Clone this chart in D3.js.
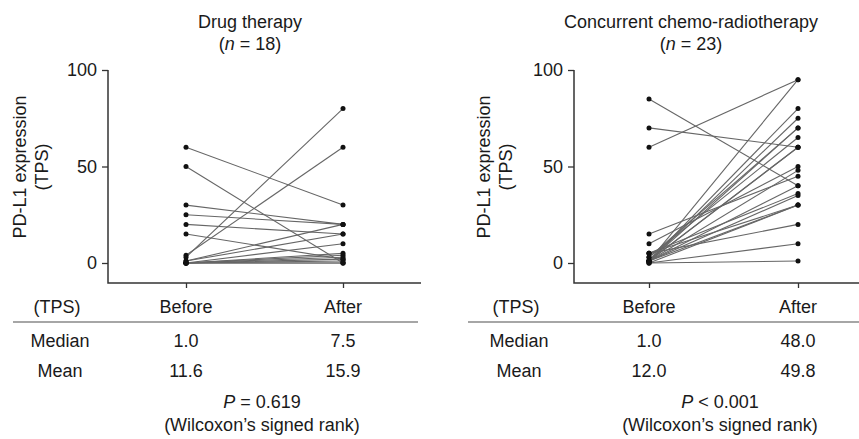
<!DOCTYPE html>
<html>
<head>
<meta charset="utf-8">
<script src="https://cdn.jsdelivr.net/npm/d3@7"></script>
<style>
  body { margin: 0; background: #fff; }
  svg { display: block; }
  text { font-family: "Liberation Sans", Arial, sans-serif; fill: #1a1a1a; }
</style>
</head>
<body>
<div id="chart"></div>
<script>
// --- data -------------------------------------------------------------
const timepoints = ["Before", "After"];
const yTicks = [0, 50, 100];

// drug therapy, paired TPS values (before -> after)
const drugBefore = [60, 50, 30, 25, 20, 15, 4, 3, 1, 1, 0, 0, 0, 0, 0, 0, 0, 0];
const drugAfter  = [30, 0, 20, 20, 15, 2, 60, 80, 20, 15, 10, 5, 4, 3, 1, 0, 2, 0];

// concurrent chemo-radiotherapy
const crtBefore = [85, 70, 60, 15, 10, 5, 5, 5, 3, 3, 1, 1, 1, 1, 1, 1, 1, 1, 1, 1, 0, 0, 0];
const crtAfter  = [40, 60, 95, 45, 50, 36, 30, 20, 65, 70, 95, 80, 75, 70, 60, 60, 48, 40, 35, 30, 30, 10, 1];

const tableHeader = ["(TPS)", "Before", "After"];
const drugTable = [["Median", "1.0", "7.5"], ["Mean", "11.6", "15.9"]];
const crtTable  = [["Median", "1.0", "48.0"], ["Mean", "12.0", "49.8"]];

const width = 859, height = 439;

const svg = d3.select("#chart").append("svg")
    .attr("width", width)
    .attr("height", height);

drawPanel({
    title: "Drug therapy", n: 18,
    before: drugBefore, after: drugAfter, table: drugTable,
    pText: "= 0.619",
    axisX: 108, axisEnd: 421, xRange: [186, 343],
    titleX: 250, yLabelX: 20, tpsLabelX: 42,
    rowLabelX: 60, ruleStart: 13, ruleEnd: 418, statX: 262
});

drawPanel({
    title: "Concurrent chemo-radiotherapy", n: 23,
    before: crtBefore, after: crtAfter, table: crtTable,
    pText: "< 0.001",
    axisX: 574, axisEnd: 859, xRange: [649, 798],
    titleX: 691, yLabelX: 484, tpsLabelX: 506,
    rowLabelX: 519, ruleStart: 468, ruleEnd: 859, statX: 720
});

function drawPanel(p) {

    const g = svg.append("g");

    const y = d3.scaleLinear().domain([0, 100]).range([263, 70]);
    const x = d3.scalePoint().domain(timepoints).range(p.xRange);
    const baseY = 283;

    // titles
    g.append("text")
        .attr("x", p.titleX).attr("y", 28)
        .attr("text-anchor", "middle")
        .style("font-size", "18px")
        .text(p.title);

    const nt = g.append("text")
        .attr("x", p.titleX).attr("y", 50)
        .attr("text-anchor", "middle")
        .style("font-size", "18px");
    nt.append("tspan").text("(");
    nt.append("tspan").style("font-style", "italic").text("n");
    nt.append("tspan").text(" = " + p.n + ")");

    // y axis label
    [["PD-L1 expression", p.yLabelX], ["(TPS)", p.tpsLabelX]].forEach(([t, cx]) => {
        g.append("text")
            .attr("transform", `translate(${cx},167) rotate(-90)`)
            .attr("text-anchor", "middle")
            .attr("dy", "0.35em")
            .style("font-size", "18px")
            .text(t);
    });

    // y axis
    const yAxis = g.append("g")
        .attr("transform", `translate(${p.axisX},0)`)
        .call(d3.axisLeft(y).tickValues(yTicks).tickSize(6).tickPadding(5));
    yAxis.select(".domain").remove();
    yAxis.selectAll("line").attr("stroke", "#333").attr("stroke-width", 1.3);
    yAxis.selectAll("text").style("font-size", "18px").attr("fill", "#1a1a1a");

    // axis frame: vertical down to baseline, then along the bottom
    g.append("path")
        .attr("d", `M${p.axisX},${y(100)}V${baseY}H${p.axisEnd}`)
        .attr("fill", "none")
        .attr("stroke", "#333")
        .attr("stroke-width", 1.5);

    const xAxis = g.append("g")
        .attr("transform", `translate(0,${baseY})`)
        .call(d3.axisBottom(x).tickSize(5).tickFormat(""));
    xAxis.select(".domain").remove();
    xAxis.selectAll("line").attr("stroke", "#333").attr("stroke-width", 1.3);

    // paired lines
    const pairs = p.before.map((b, i) => ({ b: b, a: p.after[i] }));

    g.selectAll("line.pair")
        .data(pairs)
        .enter().append("line")
        .attr("class", "pair")
        .attr("x1", x("Before")).attr("y1", d => y(d.b))
        .attr("x2", x("After")).attr("y2", d => y(d.a))
        .attr("stroke", "#666")
        .attr("stroke-width", 1.1);

    // dots
    const dots = [];
    pairs.forEach(d => {
        dots.push({ t: "Before", v: d.b });
        dots.push({ t: "After", v: d.a });
    });
    g.selectAll("circle.dot")
        .data(dots)
        .enter().append("circle")
        .attr("class", "dot")
        .attr("cx", d => x(d.t))
        .attr("cy", d => y(d.v))
        .attr("r", 2.5)
        .attr("fill", "#111");

    // table under the chart
    const colX = [p.rowLabelX, x("Before"), x("After")];

    tableHeader.forEach((h, i) => {
        g.append("text")
            .attr("x", i === 0 ? p.rowLabelX - 3 : colX[i]).attr("y", 313)
            .attr("text-anchor", "middle")
            .style("font-size", "18px")
            .text(h);
    });

    g.append("line")
        .attr("x1", p.ruleStart).attr("x2", p.ruleEnd)
        .attr("y1", 322).attr("y2", 322)
        .attr("stroke", "#888")
        .attr("stroke-width", 1.5);

    p.table.forEach((row, r) => {
        row.forEach((cell, i) => {
            g.append("text")
                .attr("x", colX[i]).attr("y", 347 + r * 30)
                .attr("text-anchor", "middle")
                .style("font-size", "18px")
                .text(cell);
        });
    });

    // test result
    const pt = g.append("text")
        .attr("x", p.statX).attr("y", 408)
        .attr("text-anchor", "middle")
        .style("font-size", "18px");
    pt.append("tspan").style("font-style", "italic").text("P");
    pt.append("tspan").text(" " + p.pText);

    g.append("text")
        .attr("x", p.statX).attr("y", 431)
        .attr("text-anchor", "middle")
        .style("font-size", "18px")
        .text("(Wilcoxon\u2019s signed rank)");
}
</script>
</body>
</html>
